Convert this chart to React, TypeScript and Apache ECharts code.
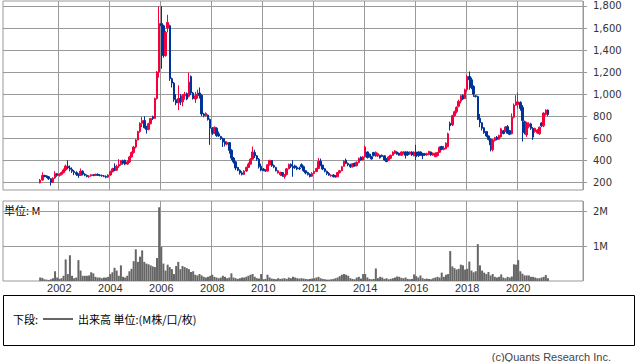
import React, { useEffect, useRef } from "react";
import * as echarts from "echarts";

// Monthly candles: [open, close, low, high] (yen)
const ohlc2001 = [ // Apr - Dec
  [195,220,190,230],[220,262,215,290],[262,255,245,268],[258,250,240,262],[250,232,222,256],
  [232,200,170,238],[200,238,195,245],[238,280,232,300],[278,262,250,285],
];
const ohlc2002 = [
  [262,272,252,282],[272,288,262,298],[288,312,280,325],[312,348,300,360],[345,330,318,400],[330,318,300,352],
  [318,300,285,335],[300,288,265,312],[288,272,258,300],[272,262,240,282],[262,300,258,325],[300,274,262,310],
];
const ohlc2003 = [
  [274,264,255,282],[264,252,245,270],[252,258,240,264],[258,268,252,274],[268,262,255,274],[262,272,258,278],
  [272,266,258,280],[266,262,254,274],[262,258,250,270],[258,254,246,266],[254,246,236,262],[246,266,240,272],
];
const ohlc2004 = [
  [266,296,260,305],[296,322,290,332],[325,310,300,372],[310,346,304,360],[346,362,330,410],[362,396,350,402],
  [396,372,360,405],[400,365,355,405],[365,385,358,400],[385,430,375,440],[430,470,425,480],[470,520,460,530],
];
const ohlc2005 = [
  [520,584,508,592],[584,660,580,668],[660,735,650,745],[735,760,700,792],[760,695,688,798],[695,680,642,712],
  [680,732,672,740],[732,778,725,784],[795,778,765,805],[780,960,775,968],[960,1200,950,1210],[1200,1640,1150,1795],
];
const ohlc2006 = [
  [1640,1620,1230,1800],[1620,1350,1330,1630],[1350,1560,1340,1575],[1600,1650,1560,1720],[1620,1140,1120,1630],[1140,1100,1060,1150],
  [1100,950,930,1110],[950,920,900,1000],[920,960,855,1080],[960,930,900,1000],[930,985,890,1000],[985,1000,950,1020],
];
const ohlc2007 = [
  [1005,955,945,1015],[980,1110,970,1195],[1160,1010,990,1170],[1010,960,950,1020],[955,985,920,1020],[985,1000,960,1040],
  [1010,990,960,1060],[990,820,800,1000],[820,805,790,830],[805,825,795,835],[810,770,760,815],[770,690,540,780],
];
const ohlc2008 = [
  [690,645,630,700],[645,700,640,705],[690,625,612,700],[640,620,612,660],[615,595,585,622],[598,565,520,605],
  [570,545,525,600],[545,562,535,572],[560,490,460,565],[490,420,400,500],[420,385,370,430],[385,330,310,395],
];
const ohlc2009 = [
  [335,310,300,340],[310,285,270,318],[285,272,262,300],[272,302,265,310],[302,335,295,342],[335,365,330,380],
  [365,410,360,418],[410,475,405,525],[470,440,420,495],[440,410,395,448],[410,340,325,420],[345,310,300,370],
];
const ohlc2010 = [
  [320,308,300,330],[308,302,295,318],[302,358,298,365],[358,398,352,405],[398,350,340,402],[352,338,328,362],
  [335,305,298,340],[285,305,278,312],[268,290,258,296],[288,262,250,292],[250,270,232,275],[270,322,262,330],
];
const ohlc2011 = [
  [322,362,318,370],[362,345,330,372],[345,330,250,400],[350,332,322,360],[336,320,310,350],[330,322,312,342],
  [360,342,332,372],[342,305,295,352],[305,285,272,310],[288,270,262,296],[275,252,244,280],[255,280,250,292],
];
const ohlc2012 = [
  [280,298,275,305],[298,325,292,332],[325,388,320,420],[390,355,345,415],[355,320,310,360],[322,300,290,330],
  [300,280,265,305],[282,265,258,292],[258,266,250,272],[266,250,245,275],[255,248,244,265],[250,288,248,292],
];
const ohlc2013 = [
  [288,305,280,312],[305,340,300,348],[345,392,340,400],[400,372,365,415],[372,358,345,380],[362,340,330,368],
  [340,368,335,372],[372,348,342,378],[350,382,345,388],[380,418,372,425],[428,402,395,435],[402,430,398,438],
];
const ohlc2014 = [
  [430,520,425,533],[475,425,415,480],[455,432,425,460],[432,412,405,440],[470,442,435,476],[438,472,430,480],
  [440,460,430,468],[445,422,415,450],[445,435,430,452],[440,402,395,445],[415,388,382,420],[400,430,395,436],
];
const ohlc2015 = [
  [418,445,412,450],[445,475,440,480],[462,485,455,492],[475,455,450,482],[465,445,440,470],[445,475,440,480],
  [460,475,452,480],[475,445,415,480],[475,448,440,480],[455,475,450,480],[475,448,440,482],[440,475,435,480],
];
const ohlc2016 = [
  [475,432,400,540],[475,442,430,480],[475,448,440,480],[460,442,410,468],[460,448,440,466],[448,460,440,468],
  [452,480,445,486],[475,448,440,480],[446,465,440,470],[432,465,428,470],[442,470,436,476],[472,518,468,525],
];
const ohlc2017 = [
  [525,498,490,530],[498,512,490,530],[505,555,500,562],[522,640,518,650],[735,712,670,750],[720,805,710,812],
  [805,840,795,850],[840,880,825,890],[890,935,880,950],[935,985,915,995],[990,955,945,1000],[960,1040,955,1050],
];
const ohlc2018 = [
  [1040,1160,1020,1175],[1160,1130,1040,1205],[1130,1060,1045,1150],[1070,1000,975,1080],[985,978,970,990],[978,770,765,985],
  [780,740,700,820],[740,690,670,745],[695,650,640,700],[660,620,610,665],[620,590,580,625],[590,540,480,600],
];
const ohlc2019 = [
  [495,585,480,592],[580,605,570,612],[610,588,580,620],[590,625,585,632],[612,685,605,695],[668,642,635,675],
  [662,702,655,710],[705,645,640,720],[668,635,628,675],[640,790,635,825],[790,900,780,915],[900,930,895,990],
];
const ohlc2020 = [
  [905,930,870,1015],[925,870,850,935],[880,760,570,900],[750,650,635,760],[630,740,612,750],[705,730,690,745],
  [730,690,675,740],[690,610,585,700],[660,690,650,695],[648,675,640,682],[640,700,630,706],[738,712,700,745],
];
const ohlc2021 = [ // Jan - Mar
  [712,828,700,835],[815,855,805,862],[855,815,800,860],
];

// Monthly volume (millions)
const vol2001 = [0.1,0.09,0.05,0.04,0.03,0.05,0.08,0.28,0.1];
const vol2002 = [0.06,0.08,0.15,0.62,0.2,0.74,0.15,0.08,0.1,0.6,0.3,0.15];
const vol2003 = [0.15,0.15,0.16,0.25,0.22,0.12,0.1,0.1,0.08,0.1,0.1,0.12];
const vol2004 = [0.2,0.25,0.38,0.3,0.15,0.45,0.12,0.1,0.15,0.28,0.35,0.57];
const vol2005 = [0.91,0.55,0.7,0.88,0.55,0.5,0.48,0.45,0.42,0.4,0.66,2.12];
const vol2006 = [0.98,0.5,0.3,0.47,0.4,0.34,0.2,0.43,0.55,0.34,0.43,0.4];
const vol2007 = [0.37,0.34,0.26,0.28,0.18,0.16,0.2,0.16,0.12,0.1,0.12,0.15];
const vol2008 = [0.18,0.12,0.1,0.08,0.1,0.15,0.12,0.08,0.1,0.22,0.1,0.08];
const vol2009 = [0.06,0.08,0.1,0.1,0.12,0.15,0.18,0.2,0.12,0.08,0.07,0.2];
const vol2010 = [0.05,0.06,0.18,0.1,0.07,0.06,0.05,0.08,0.06,0.07,0.08,0.06];
const vol2011 = [0.1,0.08,0.12,0.1,0.08,0.07,0.08,0.07,0.06,0.05,0.06,0.07];
const vol2012 = [0.08,0.1,0.12,0.08,0.06,0.05,0.04,0.04,0.05,0.06,0.08,0.1];
const vol2013 = [0.14,0.18,0.2,0.18,0.15,0.08,0.06,0.05,0.1,0.12,0.07,0.2];
const vol2014 = [0.2,0.1,0.06,0.05,0.06,0.36,0.08,0.12,0.1,0.06,0.08,0.05];
const vol2015 = [0.06,0.08,0.1,0.13,0.12,0.09,0.08,0.1,0.06,0.05,0.06,0.19];
const vol2016 = [0.14,0.1,0.16,0.08,0.06,0.07,0.06,0.05,0.08,0.1,0.12,0.1];
const vol2017 = [0.24,0.12,0.18,0.2,0.86,0.42,0.37,0.33,0.35,0.47,0.45,0.33];
const vol2018 = [0.35,0.56,0.3,0.25,0.28,1.06,0.45,0.3,0.24,0.2,0.26,0.16];
const vol2019 = [0.2,0.12,0.1,0.12,0.19,0.1,0.08,0.12,0.1,0.13,0.48,0.47];
const vol2020 = [0.6,0.28,0.21,0.16,0.16,0.16,0.12,0.12,0.1,0.08,0.08,0.1];
const vol2021 = [0.12,0.17,0.08];

// [year, first month, candles, volumes]
const yearBlocks: [number, number, number[][], number[]][] = [
  [2001, 4, ohlc2001, vol2001], [2002, 1, ohlc2002, vol2002], [2003, 1, ohlc2003, vol2003],
  [2004, 1, ohlc2004, vol2004], [2005, 1, ohlc2005, vol2005], [2006, 1, ohlc2006, vol2006],
  [2007, 1, ohlc2007, vol2007], [2008, 1, ohlc2008, vol2008], [2009, 1, ohlc2009, vol2009],
  [2010, 1, ohlc2010, vol2010], [2011, 1, ohlc2011, vol2011], [2012, 1, ohlc2012, vol2012],
  [2013, 1, ohlc2013, vol2013], [2014, 1, ohlc2014, vol2014], [2015, 1, ohlc2015, vol2015],
  [2016, 1, ohlc2016, vol2016], [2017, 1, ohlc2017, vol2017], [2018, 1, ohlc2018, vol2018],
  [2019, 1, ohlc2019, vol2019], [2020, 1, ohlc2020, vol2020], [2021, 1, ohlc2021, vol2021],
];

const axisFirstMonth = [1999, 11];
const axisLastMonth = [2022, 7];
const yearLabels = [2002, 2004, 2006, 2008, 2010, 2012, 2014, 2016, 2018, 2020];
const priceTicks = [200, 400, 600, 800, 1000, 1200, 1400, 1600, 1800];
const volumeTicks = [1, 2];

const UP = "#f5003d";
const DOWN = "#003399";
const GRID = "#999999";

const ym = (y: number, m: number) => `${y}-${String(m).padStart(2, "0")}`;

const categories: string[] = [];
{
  let y = axisFirstMonth[0];
  let m = axisFirstMonth[1];
  while (y < axisLastMonth[0] || (y === axisLastMonth[0] && m <= axisLastMonth[1])) {
    categories.push(ym(y, m));
    m++;
    if (m > 12) { m = 1; y++; }
  }
}

const candleRows: (string | number)[][] = [];
const volumeRows: (string | number)[][] = [];
yearBlocks.forEach(([year, first, candles, vols]) => {
  candles.forEach((c, i) => candleRows.push([ym(year, first + i), c[0], c[1], c[2], c[3]]));
  vols.forEach((v, i) => volumeRows.push([ym(year, first + i), v]));
});

const majorSet = new Set(yearLabels.map((y) => ym(y, 1)));
const isMajor = (_i: number, v: string) => majorSet.has(v);

export default function App() {
  const ref = useRef<HTMLDivElement>(null);
  useEffect(() => {
    if (!ref.current) return;
    const chart = echarts.init(ref.current, undefined, { renderer: "svg" });
    const cjk = '"Noto Sans CJK JP", sans-serif';
    chart.setOption({
      animation: false,
      backgroundColor: "#ffffff",
      grid: [
        { left: 3, top: 1, width: 580, height: 189, show: true, borderColor: GRID, borderWidth: 1, backgroundColor: "transparent" },
        { left: 3, top: 201, width: 580, height: 80, show: true, borderColor: GRID, borderWidth: 1, backgroundColor: "transparent" },
      ],
      xAxis: [
        {
          type: "category", gridIndex: 0, data: categories, boundaryGap: true,
          axisLine: { show: false }, axisTick: { show: false }, axisLabel: { show: false },
          splitLine: { show: true, interval: isMajor, lineStyle: { color: GRID, width: 1 } },
        },
        {
          type: "category", gridIndex: 1, data: categories, boundaryGap: true,
          axisLine: { show: false }, axisTick: { show: false },
          axisLabel: {
            show: true, interval: isMajor, formatter: (v: string) => v.slice(0, 4),
            margin: 1, fontSize: 11, color: "#333", fontFamily: "Liberation Sans",
          },
          splitLine: { show: true, interval: isMajor, lineStyle: { color: GRID, width: 1 } },
        },
      ],
      yAxis: [
        {
          type: "value", gridIndex: 0, position: "right", min: 130, max: 1845, splitNumber: 9,
          axisLine: { show: false },
          axisTick: { show: true, length: 4, lineStyle: { color: GRID }, customValues: priceTicks },
          axisLabel: {
            customValues: priceTicks, margin: 10, fontSize: 10, color: "#333", fontFamily: "DejaVu Sans",
            formatter: (v: number) => v.toLocaleString("en-US"),
          },
          splitLine: { show: true, lineStyle: { color: GRID, width: 1 } },
        },
        {
          type: "value", gridIndex: 1, position: "right", min: 0, max: 2.3, interval: 1,
          axisLine: { show: false },
          axisTick: { show: true, length: 4, lineStyle: { color: GRID }, customValues: volumeTicks },
          axisLabel: {
            customValues: volumeTicks, margin: 10, fontSize: 10, color: "#333", fontFamily: "DejaVu Sans",
            formatter: (v: number) => `${v}M`,
          },
          splitLine: { show: true, lineStyle: { color: GRID, width: 1 } },
        },
      ],
      series: [
        {
          type: "candlestick", xAxisIndex: 0, yAxisIndex: 0, data: candleRows,
          encode: { x: 0, y: [1, 2, 3, 4] },
          barWidth: 2,
          itemStyle: { color: UP, color0: DOWN, borderColor: UP, borderColor0: DOWN, borderWidth: 1 },
        },
        {
          type: "bar", xAxisIndex: 1, yAxisIndex: 1, data: volumeRows,
          barWidth: 2, itemStyle: { color: "#666666" },
        },
      ],
      graphic: [
        { type: "text", x: 4, y: 210, style: { text: "単位: M", fontSize: 11, fontFamily: cjk, fill: "#000", verticalAlign: "middle" } },
        { type: "rect", shape: { x: 3.5, y: 295.5, width: 631, height: 50 }, style: { fill: "none", stroke: "#000", lineWidth: 1 } },
        { type: "text", x: 13, y: 319, style: { text: "下段:", fontSize: 11, fontFamily: cjk, fill: "#000", verticalAlign: "middle" } },
        { type: "line", shape: { x1: 43, y1: 319, x2: 73, y2: 319 }, style: { stroke: "#666666", lineWidth: 2 } },
        { type: "text", x: 78, y: 319, style: { text: "出来高 単位:(M株/口/枚)", fontSize: 11, fontFamily: cjk, fill: "#000", verticalAlign: "middle" } },
        { type: "text", x: 611, y: 357, style: { text: "(c)Quants Research Inc.", fontSize: 11, fontFamily: "Liberation Sans", fill: "#444", align: "right", verticalAlign: "middle" } },
      ],
    });
    return () => chart.dispose();
  }, []);
  return <div ref={ref} style={{ position: "absolute", left: 0, top: 0, width: 638, height: 362 }} />;
}
